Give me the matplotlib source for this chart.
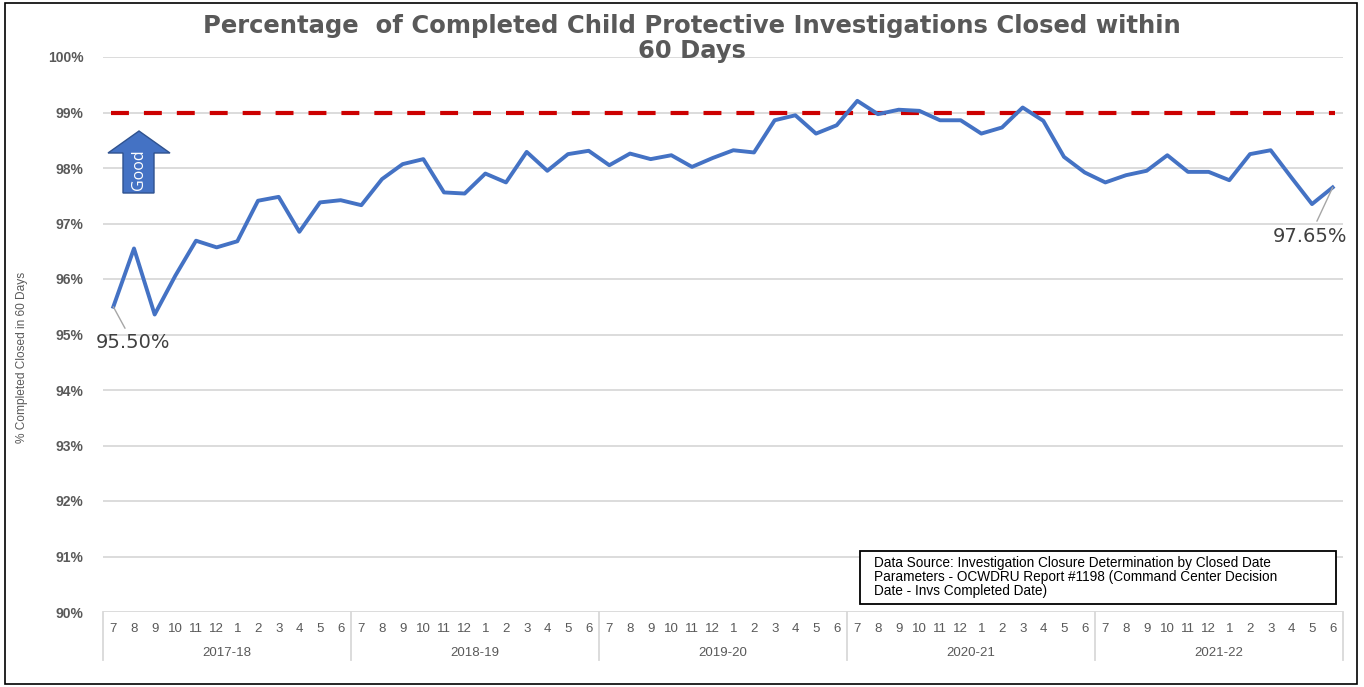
import matplotlib.pyplot as plt
from matplotlib.patches import Rectangle, Polygon

# monthly % of completed investigations closed within 60 days (Jul 2017 - Jun 2022)
fiscal_years = ['2017-18', '2018-19', '2019-20', '2020-21', '2021-22']
months = ['7', '8', '9', '10', '11', '12', '1', '2', '3', '4', '5', '6']
pct_2017_18 = [95.50, 96.55, 95.36, 96.06, 96.69, 96.57, 96.68, 97.41, 97.48, 96.85, 97.38, 97.42]
pct_2018_19 = [97.33, 97.80, 98.07, 98.16, 97.56, 97.54, 97.90, 97.74, 98.29, 97.95, 98.25, 98.31]
pct_2019_20 = [98.05, 98.26, 98.16, 98.23, 98.02, 98.18, 98.32, 98.28, 98.86, 98.95, 98.62, 98.77]
pct_2020_21 = [99.21, 98.97, 99.05, 99.03, 98.86, 98.86, 98.62, 98.73, 99.09, 98.85, 98.20, 97.92]
pct_2021_22 = [97.74, 97.87, 97.95, 98.23, 97.93, 97.93, 97.78, 98.25, 98.32, 97.83, 97.35, 97.65]
target = 99.0

values = pct_2017_18 + pct_2018_19 + pct_2019_20 + pct_2020_21 + pct_2021_22
x = list(range(len(values)))

W, H = 1364, 687
gray = '#595959'


def fx(px):
    return px / W


def fy(py):
    return 1 - py / H


fig = plt.figure(figsize=(W / 100, H / 100), dpi=100)
ax = fig.add_axes([fx(103), fy(612), fx(1343) - fx(103), fy(57) - fy(612)])

ax.plot(x, values, color='#4472C4', lw=2.8, solid_joinstyle='round', zorder=3)
ax.plot([-0.1, len(values) - 0.9], [target, target], color='#CC0000', lw=3,
        dashes=(4.3, 3.6), zorder=2)

ax.set_xlim(-0.5, len(values) - 0.5)
ax.set_ylim(90, 100)
ax.set_yticks(range(90, 101))
ax.set_yticklabels([f'{v}%' for v in range(90, 101)], fontweight='bold',
                   color=gray, fontsize=10, family='Liberation Sans')
ax.tick_params(axis='y', length=0, pad=14)
ax.set_xticks([])
ax.grid(axis='y', color='#d9d9d9', lw=1.3)
ax.set_axisbelow(True)
for s in ax.spines.values():
    s.set_visible(False)

# two-level category axis
tr = ax.get_xaxis_transform()
for i in x:
    ax.text(i, -0.03, months[i % 12], transform=tr, ha='center', va='center',
            fontsize=9.5, color=gray, family='Liberation Sans')
for k, fyr in enumerate(fiscal_years):
    ax.text(k * 12 + 5.5, -0.074, fyr, transform=tr, ha='center', va='center',
            fontsize=9.5, color=gray, family='Liberation Sans')
for k in range(len(fiscal_years) + 1):
    ax.plot([k * 12 - 0.5] * 2, [0, -0.087], transform=tr, color='#d9d9d9',
            lw=1.3, clip_on=False)

fig.text(fx(22), fy(357), '% Completed Closed in 60 Days', rotation=90,
         ha='center', va='center', fontsize=8.6, color=gray,
         family=['Liberation Sans Narrow', 'Liberation Sans'])

fig.text(fx(692), fy(26), 'Percentage  of Completed Child Protective Investigations Closed within',
         ha='center', va='center', fontsize=17.5, fontweight='bold', color=gray,
         family='DejaVu Sans')
fig.text(fx(692), fy(51), '60 Days', ha='center', va='center', fontsize=17.5,
         fontweight='bold', color=gray, family='DejaVu Sans')

# end-point labels
ax.annotate(f'{values[0]:.2f}%', xy=(0, values[0]), xytext=(fx(133), fy(343)),
            textcoords='figure fraction', ha='center', va='center', fontsize=14,
            color='#404040', arrowprops=dict(arrowstyle='-', color='#a6a6a6', lw=1,
                                             shrinkA=2, shrinkB=0))
ax.annotate(f'{values[-1]:.2f}%', xy=(x[-1], values[-1]), xytext=(fx(1310), fy(236)),
            textcoords='figure fraction', ha='center', va='center', fontsize=14,
            color='#404040', arrowprops=dict(arrowstyle='-', color='#a6a6a6', lw=1,
                                             shrinkA=2, shrinkB=0))

# "Good" arrow
arrow_px = [(108, 153), (139, 131), (170, 153), (154, 153), (154, 193), (123, 193), (123, 153)]
fig.patches.append(Polygon([(fx(a), fy(b)) for a, b in arrow_px], closed=True,
                           transform=fig.transFigure, facecolor='#4472C4',
                           edgecolor='#2F528F', lw=1))
fig.text(fx(139), fy(170), 'Good', rotation=90, ha='center', va='center',
         color='white', fontsize=11.5, family='Open Sans')

# data source box
fig.patches.append(Rectangle((fx(860), fy(604)), fx(1336) - fx(860), fy(551) - fy(604),
                             transform=fig.transFigure, facecolor='white',
                             edgecolor='black', lw=1.3, zorder=5))
fig.text(fx(874), fy(577), 'Data Source: Investigation Closure Determination by Closed Date\n'
         'Parameters - OCWDRU Report #1198 (Command Center Decision\n'
         'Date - Invs Completed Date)', ha='left', va='center', fontsize=9.8,
         linespacing=1.03, family='Liberation Sans', zorder=6)

# outer border
fig.patches.append(Rectangle((fx(5), fy(684)), fx(1357) - fx(5), fy(3) - fy(684),
                             transform=fig.transFigure, fill=False,
                             edgecolor='black', lw=1.2))

fig.savefig('out.png', dpi=100)
